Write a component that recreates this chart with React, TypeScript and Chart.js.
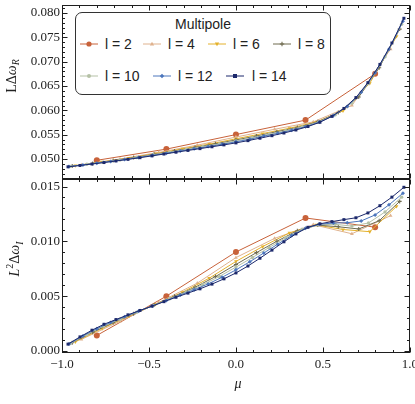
import React, { useEffect, useRef } from "react";
import { Chart, registerables } from "chart.js";

Chart.register(...registerables);

// ---------- data ----------
const SERIES_LABELS = ["l = 2", "l = 4", "l = 6", "l = 8", "l = 10", "l = 12", "l = 14"];
const SERIES_COLORS = ["#c8623a", "#dfb28e", "#e4b12c", "#6f6b4f", "#b5c1a6", "#4c76bc", "#1c296c"];

const MU_2 = [-0.8, -0.4, 0, 0.4, 0.8];
const MU_4 = [-0.8889, -0.6667, -0.4444, -0.2222, 0, 0.2222, 0.4444, 0.6667, 0.8889];
const MU_6 = [-0.9231, -0.7692, -0.6154, -0.4615, -0.3077, -0.1538, 0, 0.1538, 0.3077, 0.4615, 0.6154, 0.7692, 0.9231];
const MU_8 = [-0.9412, -0.8235, -0.7059, -0.5882, -0.4706, -0.3529, -0.2353, -0.1176, 0, 0.1176, 0.2353, 0.3529, 0.4706, 0.5882, 0.7059, 0.8235, 0.9412];
const MU_10 = [-0.9524, -0.8571, -0.7619, -0.6667, -0.5714, -0.4762, -0.381, -0.2857, -0.1905, -0.0952, 0, 0.0952, 0.1905, 0.2857, 0.381, 0.4762, 0.5714, 0.6667, 0.7619, 0.8571, 0.9524];
const MU_12 = [-0.96, -0.88, -0.8, -0.72, -0.64, -0.56, -0.48, -0.4, -0.32, -0.24, -0.16, -0.08, 0, 0.08, 0.16, 0.24, 0.32, 0.4, 0.48, 0.56, 0.64, 0.72, 0.8, 0.88, 0.96];
const MU_14 = [-0.9655, -0.8966, -0.8276, -0.7586, -0.6897, -0.6207, -0.5517, -0.4828, -0.4138, -0.3448, -0.2759, -0.2069, -0.1379, -0.069, 0, 0.069, 0.1379, 0.2069, 0.2759, 0.3448, 0.4138, 0.4828, 0.5517, 0.6207, 0.6897, 0.7586, 0.8276, 0.8966, 0.9655];

// top panel: L Δω_R
const DR_2 = [0.04974, 0.05204, 0.05503, 0.058, 0.06752];
const DR_4 = [0.04881, 0.05001, 0.05136, 0.05286, 0.05452, 0.05612, 0.05764, 0.061, 0.0726];
const DR_6 = [0.04864, 0.04942, 0.05021, 0.05111, 0.0521, 0.05306, 0.05416, 0.05524, 0.05633, 0.0576, 0.0599, 0.06557, 0.0752];
const DR_8 = [0.04855, 0.0491, 0.04968, 0.0503, 0.05096, 0.05166, 0.05239, 0.05313, 0.05392, 0.05473, 0.05562, 0.05649, 0.05765, 0.05955, 0.06275, 0.06875, 0.0767];
const DR_10 = [0.0485, 0.04892, 0.04936, 0.04981, 0.05032, 0.05087, 0.05142, 0.05197, 0.05255, 0.05311, 0.05374, 0.05439, 0.05509, 0.05582, 0.05662, 0.05763, 0.05911, 0.06152, 0.06553, 0.07102, 0.07769];
const DR_12 = [0.04845, 0.04878, 0.04914, 0.04952, 0.04989, 0.05031, 0.05076, 0.05119, 0.05164, 0.05209, 0.05256, 0.05303, 0.05354, 0.05408, 0.05472, 0.05528, 0.05592, 0.05663, 0.0576, 0.05895, 0.06079, 0.06374, 0.06774, 0.07257, 0.07829];
const DR_14 = [0.0484, 0.04868, 0.04898, 0.04928, 0.0496, 0.04993, 0.05028, 0.05065, 0.05103, 0.0514, 0.05177, 0.05214, 0.05252, 0.05291, 0.05332, 0.05378, 0.05428, 0.0548, 0.05535, 0.05597, 0.05668, 0.05756, 0.05876, 0.0604, 0.06263, 0.0657, 0.06945, 0.07385, 0.07892];

// bottom panel: L^2 Δω_I
const DI_2 = [0.00142, 0.005, 0.00903, 0.01213, 0.01129];
const DI_4 = [0.00106, 0.00271, 0.00442, 0.00619, 0.00852, 0.01027, 0.01152, 0.01069, 0.01234];
const DI_6 = [0.00084, 0.00206, 0.00318, 0.00426, 0.00536, 0.00664, 0.00817, 0.00953, 0.01077, 0.0115, 0.01108, 0.01088, 0.01319];
const DI_8 = [0.00076, 0.00172, 0.00259, 0.00341, 0.00419, 0.00499, 0.00581, 0.00679, 0.00789, 0.00897, 0.01001, 0.01097, 0.01148, 0.01133, 0.01113, 0.01188, 0.01364];
const DI_10 = [0.00068, 0.00151, 0.00227, 0.0029, 0.00354, 0.00415, 0.00477, 0.00539, 0.00605, 0.0068, 0.00765, 0.00853, 0.00944, 0.01033, 0.0111, 0.01152, 0.01155, 0.01139, 0.01167, 0.01268, 0.01403];
const DI_12 = [0.00065, 0.00138, 0.00204, 0.00261, 0.00313, 0.00363, 0.00411, 0.00461, 0.00511, 0.00559, 0.00612, 0.00672, 0.0074, 0.00814, 0.00894, 0.00974, 0.01053, 0.0112, 0.01156, 0.01167, 0.0117, 0.01186, 0.01241, 0.01333, 0.01439];
const DI_14 = [0.00063, 0.00129, 0.0019, 0.00244, 0.00287, 0.0033, 0.0037, 0.00409, 0.0045, 0.0049, 0.00528, 0.00567, 0.0061, 0.00658, 0.00712, 0.00775, 0.00846, 0.0092, 0.00996, 0.01068, 0.01128, 0.0116, 0.0118, 0.01198, 0.01215, 0.01259, 0.01325, 0.01403, 0.01493];

const MU_ALL = [MU_2, MU_4, MU_6, MU_8, MU_10, MU_12, MU_14];
const DR_ALL = [DR_2, DR_4, DR_6, DR_8, DR_10, DR_12, DR_14];
const DI_ALL = [DI_2, DI_4, DI_6, DI_8, DI_10, DI_12, DI_14];

// ticks
const X_MAJOR = [-1, -0.5, 0, 0.5, 1];
const X_LABELS = ["\u22121.0", "\u22120.5", "0.0", "0.5", "1.0"];
const X_MINOR = [-0.9, -0.8, -0.7, -0.6, -0.4, -0.3, -0.2, -0.1, 0.1, 0.2, 0.3, 0.4, 0.6, 0.7, 0.8, 0.9];
const TOP_MAJOR = [0.05, 0.055, 0.06, 0.065, 0.07, 0.075, 0.08];
const TOP_LABELS = ["0.050", "0.055", "0.060", "0.065", "0.070", "0.075", "0.080"];
const TOP_MINOR = [0.046, 0.047, 0.048, 0.049, 0.051, 0.052, 0.053, 0.054, 0.056, 0.057, 0.058, 0.059, 0.061, 0.062, 0.063, 0.064, 0.066, 0.067, 0.068, 0.069, 0.071, 0.072, 0.073, 0.074, 0.076, 0.077, 0.078, 0.079, 0.081];
const BOT_MAJOR = [0, 0.005, 0.01, 0.015];
const BOT_LABELS = ["0.000", "0.005", "0.010", "0.015"];
const BOT_MINOR = [0.001, 0.002, 0.003, 0.004, 0.006, 0.007, 0.008, 0.009, 0.011, 0.012, 0.013, 0.014];

const TOP_RANGE = [0.04589, 0.08163];
const BOT_RANGE = [-0.00018, 0.01568];

// marker styles per series
const POINT_STYLE: any[] = ["circle", "triangle", "triangle", "cross", "circle", "rectRot", "rect"];
const POINT_ROT = [0, 0, 180, 0, 0, 0, 0];
const POINT_R = [3.0, 2.2, 2.2, 2.0, 1.7, 2.0, 2.1];

const W = 415;
const H = 404;
const TICK_FONT = { family: "'Liberation Serif', 'DejaVu Serif', serif", size: 13 };

const framePlugin = {
  id: "frameTicks",
  afterDatasetsDraw(chart: any) {
    const ctx = chart.ctx;
    const xs = chart.scales.x;
    const panels: [string, number[], number[]][] = [
      ["yTop", TOP_MAJOR, TOP_MINOR],
      ["yBot", BOT_MAJOR, BOT_MINOR],
    ];
    ctx.save();
    ctx.strokeStyle = "#1e1e1e";
    ctx.lineWidth = 1;
    const seg = (x1: number, y1: number, x2: number, y2: number) => {
      ctx.beginPath();
      ctx.moveTo(x1, y1);
      ctx.lineTo(x2, y2);
      ctx.stroke();
    };
    for (const [id, maj, mnr] of panels) {
      const ys = chart.scales[id];
      const L = Math.round(xs.left) + 0.5;
      const R = Math.round(xs.right) - 0.5;
      const T = Math.round(ys.top) + 0.5;
      const B = Math.round(ys.bottom) - 0.5;
      ctx.strokeRect(L, T, R - L, B - T);
      const xt = (v: number, len: number) => {
        const p = Math.round(xs.getPixelForValue(v)) + 0.5;
        seg(p, B, p, B - len);
        seg(p, T, p, T + len);
      };
      X_MAJOR.forEach((v) => xt(v, 5));
      X_MINOR.forEach((v) => xt(v, 2.5));
      const yt = (v: number, len: number) => {
        if (v < ys.min || v > ys.max) return;
        const p = Math.round(ys.getPixelForValue(v)) + 0.5;
        seg(L, p, L + len, p);
        seg(R, p, R - len, p);
      };
      maj.forEach((v) => yt(v, 5));
      mnr.forEach((v) => yt(v, 2.5));
    }
    ctx.restore();
  },
};

function buildDatasets() {
  const ds: any[] = [];
  for (let s = 0; s < SERIES_LABELS.length; s++) {
    const common = {
      label: SERIES_LABELS[s],
      borderColor: SERIES_COLORS[s],
      backgroundColor: SERIES_COLORS[s],
      borderWidth: 1,
      pointStyle: POINT_STYLE[s],
      rotation: POINT_ROT[s],
      pointRadius: POINT_R[s],
      pointBorderWidth: POINT_STYLE[s] === "cross" ? 1.1 : 0,
      pointBackgroundColor: SERIES_COLORS[s],
      pointBorderColor: SERIES_COLORS[s],
      tension: 0,
      fill: false,
      order: SERIES_LABELS.length - s,
    };
    ds.push({
      ...common,
      yAxisID: "yTop",
      data: MU_ALL[s].map((m, i) => ({ x: m, y: DR_ALL[s][i] })),
    });
    ds.push({
      ...common,
      yAxisID: "yBot",
      data: MU_ALL[s].map((m, i) => ({ x: m, y: DI_ALL[s][i] })),
    });
  }
  return ds;
}

function yScale(range: number[], major: number[], labels: string[]) {
  return {
    type: "linear",
    position: "left",
    stack: "panels",
    stackWeight: 1,
    min: range[0],
    max: range[1],
    border: { display: false },
    grid: { display: false, drawTicks: false },
    afterBuildTicks: (sc: any) => {
      sc.ticks = major.map((v) => ({ value: v }));
    },
    afterFit: (sc: any) => {
      sc.width = 62;
      sc.paddingTop = 0;
      sc.paddingBottom = 0;
    },
    ticks: {
      padding: 2,
      color: "#222",
      font: TICK_FONT,
      autoSkip: false,
      callback: (_v: any, i: number) => labels[i],
    },
  };
}

function LegendMarker({ idx }: { idx: number }) {
  const c = SERIES_COLORS[idx];
  let shape: any = null;
  if (idx === 0) shape = <circle cx={9} cy={4} r={2.6} fill={c} />;
  else if (idx === 1) shape = <polygon points="9,1.8 11.2,5.6 6.8,5.6" fill={c} />;
  else if (idx === 2) shape = <polygon points="9,6.2 11.2,2.4 6.8,2.4" fill={c} />;
  else if (idx === 3)
    shape = (
      <g stroke={c} strokeWidth={1.1}>
        <line x1={9} y1={1.8} x2={9} y2={6.2} />
        <line x1={6.8} y1={4} x2={11.2} y2={4} />
      </g>
    );
  else if (idx === 4) shape = <circle cx={9} cy={4} r={2} fill={c} />;
  else if (idx === 5) shape = <polygon points="9,1.8 11.2,4 9,6.2 6.8,4" fill={c} />;
  else shape = <rect x={7} y={2} width={4} height={4} fill={c} />;
  return (
    <svg width={18} height={8} style={{ display: "block" }}>
      <line x1={0} y1={4} x2={18} y2={4} stroke={c} strokeWidth={1} />
      {shape}
    </svg>
  );
}

const LEGEND_POS = [
  { sx: 80, tx: 105, cy: 44 },
  { sx: 143, tx: 168, cy: 44 },
  { sx: 208, tx: 233, cy: 44 },
  { sx: 273, tx: 298, cy: 44 },
  { sx: 80, tx: 105, cy: 76 },
  { sx: 153, tx: 178, cy: 76 },
  { sx: 226, tx: 252, cy: 76 },
];

export default function App() {
  const ref = useRef<HTMLCanvasElement>(null);

  useEffect(() => {
    document.body.style.margin = "0";
    const canvas = ref.current;
    if (!canvas) return;
    const chart = new Chart(canvas, {
      type: "line",
      data: { datasets: buildDatasets() },
      options: {
        animation: false,
        responsive: false,
        devicePixelRatio: 1,
        events: [],
        layout: { padding: { top: 2, right: 1, left: 0, bottom: 0 } },
        plugins: {
          legend: { display: false },
          tooltip: { enabled: false },
          title: { display: false },
        },
        scales: {
          x: {
            type: "linear",
            position: "bottom",
            min: -1,
            max: 1,
            border: { display: false },
            grid: { display: false, drawTicks: false },
            afterBuildTicks: (sc: any) => {
              sc.ticks = X_MAJOR.map((v) => ({ value: v }));
            },
            afterFit: (sc: any) => {
              sc.height = 51;
              sc.paddingLeft = 0;
              sc.paddingRight = 0;
            },
            ticks: {
              padding: 4,
              color: "#222",
              font: TICK_FONT,
              maxRotation: 0,
              autoSkip: false,
              callback: (_v: any, i: number) => X_LABELS[i],
            },
          },
          yBot: yScale(BOT_RANGE, BOT_MAJOR, BOT_LABELS),
          yTop: yScale(TOP_RANGE, TOP_MAJOR, TOP_LABELS),
        } as any,
      },
      plugins: [framePlugin],
    } as any);
    return () => chart.destroy();
  }, []);

  const serif = "'Liberation Serif', 'DejaVu Serif', serif";
  const sans = "'Liberation Sans', Arial, sans-serif";

  return (
    <div style={{ position: "relative", width: W, height: H, background: "#fff", overflow: "hidden" }}>
      <canvas ref={ref} width={W} height={H} style={{ position: "absolute", left: 0, top: 0 }} />
      {/* y titles */}
      <div
        style={{
          position: "absolute",
          left: 13,
          top: 76,
          transform: "translate(-50%, -50%) rotate(-90deg)",
          fontFamily: serif,
          fontSize: 14,
          color: "#222",
          whiteSpace: "nowrap",
          lineHeight: 1,
        }}
      >
        LΔ<i>ω</i>
        <sub style={{ fontSize: 10 }}>
          <i>R</i>
        </sub>
      </div>
      <div
        style={{
          position: "absolute",
          left: 15,
          top: 259,
          transform: "translate(-50%, -50%) rotate(-90deg)",
          fontFamily: serif,
          fontSize: 14,
          color: "#222",
          whiteSpace: "nowrap",
          lineHeight: 1,
        }}
      >
        <i>L</i>
        <sup style={{ fontSize: 10 }}>2</sup>Δ<i>ω</i>
        <sub style={{ fontSize: 10 }}>
          <i>I</i>
        </sub>
      </div>
      {/* x title */}
      <div
        style={{
          position: "absolute",
          left: 238,
          top: 384,
          transform: "translate(-50%, -50%)",
          fontFamily: serif,
          fontSize: 14,
          fontStyle: "italic",
          color: "#222",
          lineHeight: 1,
        }}
      >
        μ
      </div>
      {/* legend */}
      <div
        style={{
          position: "absolute",
          left: 75,
          top: 12,
          width: 256,
          height: 83,
          boxSizing: "border-box",
          border: "1px solid #333",
          borderRadius: 7,
          background: "#fff",
        }}
      />
      <div
        style={{
          position: "absolute",
          left: 203,
          top: 24,
          transform: "translate(-50%, -50%)",
          fontFamily: sans,
          fontSize: 14,
          color: "#222",
          whiteSpace: "nowrap",
          lineHeight: 1,
        }}
      >
        Multipole
      </div>
      {SERIES_LABELS.map((lab, i) => (
        <React.Fragment key={lab}>
          <div style={{ position: "absolute", left: LEGEND_POS[i].sx, top: LEGEND_POS[i].cy - 4 }}>
            <LegendMarker idx={i} />
          </div>
          <div
            style={{
              position: "absolute",
              left: LEGEND_POS[i].tx,
              top: LEGEND_POS[i].cy,
              transform: "translateY(-50%)",
              fontFamily: sans,
              fontSize: 14,
              color: "#222",
              whiteSpace: "nowrap",
              lineHeight: 1,
            }}
          >
            {lab}
          </div>
        </React.Fragment>
      ))}
    </div>
  );
}
